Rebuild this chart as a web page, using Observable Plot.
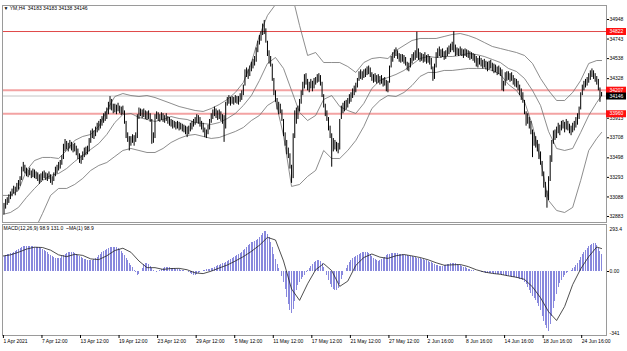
<!DOCTYPE html>
<html><head><meta charset="utf-8">
<script src="https://cdn.jsdelivr.net/npm/d3@7"></script>
<script src="https://cdn.jsdelivr.net/npm/@observablehq/plot@0.6"></script>
<style>
body{margin:0;background:#fff;}
#chart{position:relative;width:627px;height:351px;overflow:hidden;background:#fff;}
#chart svg{position:absolute;left:0;}
</style></head><body><div id="chart"></div>
<script>
// ---------- DATA (YM, H4 bars: index 0 = 1 Apr 2021) ----------
const lows = [
32860,32900,32960,33000,33020,33060,33090,33120,33100,33140,
33160,33200,33260,33350,33330,33300,33290,33310,33280,33290,
33280,33270,33250,33220,33240,33260,33280,33260,33250,33270,
33230,33210,33250,33300,33330,33360,33380,33420,33480,33560,
33580,33560,33590,33570,33550,33560,33520,33480,33440,33430,
33470,33500,33520,33530,33560,33650,33700,33690,33720,33760,
33780,33800,33830,33860,33880,33900,33950,34000,33990,33960,
33970,33950,33980,33960,33940,33950,33850,33700,33660,33570,
33620,33650,33620,33660,33700,33900,33930,33910,33920,33900,
33890,33900,33870,33640,33650,33700,33900,33880,33870,33890,
33870,33860,33880,33850,33830,33820,33800,33810,33790,33800,
33780,33790,33770,33760,33740,33710,33740,33770,33790,33820,
33840,33860,33850,33820,33790,33760,33710,33700,33740,33790,
33860,33900,33930,33910,33890,33900,33880,33850,33660,33800,
34040,34060,34040,34060,34050,34070,34060,34050,34080,34100,
34150,34250,34340,34320,34350,34400,34430,34460,34500,34600,
34680,34720,34780,34790,34700,34560,34480,34450,34300,34150,
34080,34000,33950,33960,33880,33720,33620,33530,33490,33380,
33230,33280,33700,33850,33900,33980,34060,34150,34220,34260,
34200,34180,34220,34190,34220,34260,34280,34290,34250,34130,
34020,33930,33880,33780,33700,33400,33560,33580,33560,33540,
33580,33900,33960,33980,34000,34020,34060,34080,34120,34150,
34180,34230,34300,34320,34310,34330,34340,34360,34370,34340,
34300,34280,34290,34270,34280,34260,34270,34240,34250,34190,
34180,34280,34440,34500,34540,34560,34530,34500,34490,34500,
34480,34460,34410,34400,34440,34480,34510,34520,34540,34520,
34500,34510,34490,34500,34480,34490,34470,34420,34300,34320,
34440,34540,34560,34540,34550,34520,34530,34560,34580,34600,
34620,34600,34560,34570,34560,34570,34560,34540,34560,34550,
34540,34520,34530,34510,34490,34450,34440,34470,34450,34430,
34440,34420,34400,34420,34430,34400,34380,34390,34360,34370,
34350,34200,34190,34250,34300,34310,34290,34300,34260,34240,
34230,34200,34150,34100,34070,33950,33830,33850,33800,33740,
33500,33620,33600,33560,33480,33420,33300,33180,33080,32970,
33050,33250,33450,33640,33680,33700,33750,33730,33780,33800,
33760,33790,33780,33750,33730,33760,33780,33810,33840,33900,
34000,34150,34200,34230,34250,34280,34310,34340,34320,34290,
34260,34200,34080,34138];
const highs = [
33000,33020,33060,33080,33110,33140,33170,33200,33190,33230,
33260,33300,33400,33450,33420,33390,33370,33390,33360,33380,
33370,33350,33340,33320,33330,33350,33360,33340,33330,33350,
33320,33300,33340,33400,33420,33450,33470,33520,33640,33690,
33670,33650,33680,33660,33640,33650,33620,33590,33540,33520,
33560,33600,33610,33620,33700,33780,33800,33780,33820,33860,
33880,33900,33930,33960,33980,34020,34080,34140,34110,34060,
34060,34050,34070,34040,34030,34040,33990,33880,33760,33720,
33720,33740,33730,33760,33950,34020,34010,34000,34010,33990,
33980,33990,33960,33900,33760,33950,33980,33970,33950,33970,
33960,33940,33960,33930,33920,33900,33890,33880,33870,33880,
33870,33860,33850,33840,33830,33820,33830,33860,33880,33900,
33920,33950,33940,33920,33880,33860,33810,33790,33840,33900,
33960,34000,34030,34010,33990,34000,33980,33950,33940,34080,
34130,34150,34130,34140,34130,34150,34140,34140,34170,34200,
34260,34420,34440,34420,34460,34500,34530,34560,34650,34720,
34780,34820,34900,34938,34850,34720,34620,34560,34480,34330,
34200,34120,34080,34060,34000,33900,33760,33680,33600,33540,
33420,33750,33990,34020,34040,34110,34200,34290,34370,34380,
34320,34290,34320,34300,34330,34340,34370,34380,34360,34290,
34160,34060,33990,33920,33830,33750,33700,33680,33660,33650,
33900,34040,34070,34090,34100,34120,34160,34180,34220,34250,
34280,34330,34400,34420,34400,34420,34430,34450,34460,34440,
34390,34370,34380,34360,34370,34350,34360,34330,34340,34310,
34300,34460,34560,34600,34630,34650,34620,34590,34580,34580,
34570,34550,34500,34490,34540,34580,34600,34620,34815,34640,
34600,34590,34580,34600,34570,34580,34560,34540,34450,34480,
34600,34640,34660,34630,34640,34610,34620,34650,34670,34690,
34710,34820,34680,34650,34640,34660,34640,34630,34640,34630,
34620,34610,34600,34590,34580,34560,34540,34560,34540,34520,
34530,34510,34500,34510,34520,34490,34480,34470,34450,34460,
34440,34420,34300,34390,34400,34400,34380,34390,34360,34330,
34320,34300,34260,34220,34180,34100,33980,33960,33920,33880,
33790,33760,33720,33680,33640,33560,33460,33350,33240,33150,
33300,33520,33680,33780,33790,33820,33860,33840,33880,33890,
33870,33900,33880,33850,33830,33860,33880,33920,33960,34030,
34180,34260,34300,34320,34340,34380,34410,34430,34410,34380,
34350,34320,34230,34183];

// Bollinger Bands (20,2) read every 5 bars
const sampleBars = [0,5,10,15,20,25,30,35,40,45,50,55,60,65,70,75,80,85,90,95,100,105,110,115,120,125,130,135,140,145,150,155,160,165,170,175,180,185,190,195,200,205,210,215,220,225,230,235,240,245,250,255,260,265,270,275,280,285,290,295,300,305,310,315,320,325,330,335,340,345,350,355,360,365,370,373];
const bbUpper = [33104,33104,33156,33366,33470,33502,33502,33491,33575,33680,33722,33743,33827,33994,34141,34172,34151,34141,34151,34130,34099,34068,34036,34015,33994,33984,34015,34057,34110,34183,34288,34497,34780,34990,35105,35199,35231,34885,34571,34602,34497,34497,34497,34455,34393,34497,34539,34550,34539,34623,34676,34728,34749,34749,34749,34770,34791,34801,34780,34749,34707,34665,34644,34623,34602,34571,34487,34330,34204,34099,34099,34183,34309,34487,34518,34518];
const bbMiddle = [32904,32925,32978,33083,33177,33261,33313,33334,33386,33460,33523,33586,33648,33743,33868,33952,33963,33921,33900,33879,33900,33931,33910,33900,33868,33858,33848,33868,33910,33963,34047,34151,34309,34487,34550,34435,34204,33973,33889,33942,34110,34151,34036,33994,33963,34068,34225,34309,34340,34372,34414,34476,34539,34560,34550,34560,34560,34571,34592,34581,34560,34529,34497,34435,34403,34330,34204,34047,33774,33596,33575,33596,33764,33942,34078,34151];
const bbLower = [32705,32747,32779,32716,32737,32915,33104,33177,33177,33219,33282,33366,33418,33449,33512,33575,33596,33575,33554,33554,33596,33659,33701,33732,33743,33722,33701,33711,33743,33774,33816,33889,33942,34047,34099,33732,33198,33219,33303,33366,33575,33491,33491,33575,33680,33827,34015,34099,34151,34141,34183,34256,34351,34393,34393,34414,34414,34424,34435,34435,34435,34414,34372,34267,34204,34089,33837,33470,33051,32946,32925,32978,33261,33575,33701,33764];

// MACD(12,26,9): main (histogram) per bar, signal every 5 bars
const macdMain = [
85,88,92,95,98,101,105,110,116,122,
128,134,139,143,145,145,144,143,142,141,
140,139,137,135,131,126,120,113,106,99,
92,85,79,74,72,73,77,83,90,97,
102,106,108,108,106,102,96,90,84,78,
73,69,66,64,63,63,63,66,72,80,
89,98,106,114,121,127,132,136,138,139,
138,135,130,123,114,103,90,76,62,47,
34,22,8,-8,-20,-15,0,20,38,46,
44,38,30,20,8,0,-5,-2,6,14,
18,21,23,23,22,20,18,16,14,12,
10,8,6,4,2,0,-3,-10,-18,-23,
-22,-18,-12,-6,-1,3,6,9,11,13,
16,20,24,28,32,36,40,43,46,50,
56,62,68,74,80,86,92,97,103,110,
118,128,138,148,156,163,168,172,177,185,
196,208,220,228,226,214,195,168,135,100,
66,40,18,0,-30,-65,-105,-150,-190,-220,
-240,-215,-170,-109,-82,-62,-45,-32,-20,-8,
5,18,30,42,51,58,62,63,58,45,
24,0,-25,-50,-72,-92,-105,-110,-109,-95,
-72,-48,-24,0,18,35,50,62,72,80,
87,93,98,102,106,108,110,110,105,95,
84,74,66,62,60,62,67,74,82,90,
96,100,103,104,104,103,101,99,97,95,
93,91,89,87,85,83,81,79,77,75,
72,70,68,65,62,58,54,50,45,40,
36,33,31,30,31,33,36,39,42,44,
46,46,44,41,37,33,29,25,21,17,
13,10,7,4,2,1,0,-2,-4,-6,
-8,-10,-11,-12,-13,-14,-15,-16,-17,-18,
-19,-20,-22,-24,-26,-28,-30,-32,-34,-36,
-38,-40,-43,-45,-52,-62,-75,-90,-108,-125,
-140,-155,-166,-180,-200,-225,-255,-285,-310,-326,
-341,-300,-255,-210,-170,-130,-91,-70,-52,-36,
-24,-14,-6,0,8,16,25,35,48,62,
78,95,110,122,133,142,150,156,160,160,
150,132,115,98.9];
const macdSignal = [88,95,110,128,139,137,122,95,85,98,92,72,68,90,120,133,110,60,22,22,12,17,18,10,-8,-12,2,20,37,60,85,115,150,195,180,60,-100,-165,-70,10,45,5,-85,-55,35,80,100,82,75,90,97,89,80,67,50,36,38,40,28,10,-3,-11,-16,-25,-33,-45,-88,-150,-230,-280,-200,-75,15,85,140,131];

// price levels and axis ticks
const priceTicks = [34948,34743,34538,34328,33913,33708,33498,33293,33088,32883];
const resistance = [34822];
const zoneLevels = [34207,33960];
const lastPrice = 34146;
const tagPrices = [34822,34207,33960,34146];
const timeTickBars = [0,24,48,72,96,120,144,168,192,216,240,264,288,312,336,360];
const timeTickLabels = ["1 Apr 2021","7 Apr 12:00","13 Apr 12:00","19 Apr 12:00","23 Apr 12:00","29 Apr 12:00","5 May 12:00","11 May 12:00","17 May 12:00","21 May 12:00","27 May 12:00","2 Jun 16:00","8 Jun 16:00","14 Jun 16:00","18 Jun 16:00","24 Jun 16:00"];
const headerText = ["\u25BC YM,H4  34183 34183 34138 34146"];
const macdText = ["MACD(12,26,9) 98.9 131.0  ~MA(1) 98.9"];
const macdMax = ["293.4"], macdMin = ["-341"];

// ---------- BUILD ----------
const bars = highs.map((h, i) => ({i, hi: h, lo: lows[i]}));
const bb = sampleBars.map((b, k) => ({i: b, up: bbUpper[k], mid: bbMiddle[k], lo: bbLower[k]}));
const hist = macdMain.map((v, i) => ({i, v}));
const sig = sampleBars.map((b, k) => ({i: b, v: macdSignal[k]}));
const labelOf = new Map(timeTickBars.map((b, k) => [b, timeTickLabels[k]]));

const FONT = "'Liberation Sans', Arial, sans-serif";
const xDomain = [0.062, 376.06];
const frameColor = "#9a9a9a";

const main = Plot.plot({
  width: 627, height: 224,
  marginTop: 5, marginBottom: 2, marginLeft: 2, marginRight: 21,
  style: {fontFamily: FONT, fontSize: "5px", background: "transparent", overflow: "visible", color: "#000"},
  x: {domain: xDomain, axis: null, label: null},
  y: {domain: [32820.1, 35094.75], axis: null, label: null},
  marks: [
    Plot.axisY({anchor: "right", label: null, ticks: priceTicks, tickFormat: "d", tickSize: 2, tickPadding: 1, fontSize: 5}),
    Plot.ruleY([lastPrice], {stroke: "#c4c4c4", strokeWidth: 1}),
    Plot.ruleY(zoneLevels, {stroke: "#f3a3a3", strokeWidth: 2}),
    Plot.ruleY(resistance, {stroke: "#e04848", strokeWidth: 1}),
    Plot.line(bb, {x: "i", y: "up", stroke: "#707070", strokeWidth: 0.8, clip: true}),
    Plot.line(bb, {x: "i", y: "mid", stroke: "#707070", strokeWidth: 0.8, clip: true}),
    Plot.line(bb, {x: "i", y: "lo", stroke: "#707070", strokeWidth: 0.8, clip: true}),
    Plot.ruleX(bars, {x: "i", y1: "lo", y2: "hi", stroke: "#000", strokeWidth: 1, clip: true}),
    Plot.frame({stroke: frameColor}),
    Plot.ruleY(tagPrices, {stroke: d => d === lastPrice ? "#000" : "#ff1010", strokeWidth: 7, insetLeft: 604, insetRight: -20}),
    Plot.text(tagPrices, {y: d => d, text: d => String(d), frameAnchor: "right", textAnchor: "start", dx: 3, fill: "#fff", fontSize: 5}),
    Plot.text(headerText, {text: d => d, frameAnchor: "top-left", textAnchor: "start", lineAnchor: "top", dx: 1, dy: 1, fontSize: 5})
  ]
});
main.style.top = "0px";

const macd = Plot.plot({
  width: 627, height: 128,
  marginTop: 1, marginBottom: 16, marginLeft: 2, marginRight: 21,
  style: {fontFamily: FONT, fontSize: "5px", background: "transparent", overflow: "visible", color: "#000"},
  x: {domain: xDomain, axis: null, label: null},
  y: {domain: [-365.7, 268.6], axis: null, label: null},
  marks: [
    Plot.ruleX(hist, {x: "i", y1: 0, y2: "v", stroke: "#6a6ad4", strokeOpacity: 0.8, strokeWidth: 1, shapeRendering: "crispEdges", clip: true}),
    Plot.line(sig, {x: "i", y: "v", stroke: "#222", strokeWidth: 0.8, clip: true}),
    Plot.frame({stroke: frameColor}),
    Plot.axisX({ticks: timeTickBars, label: null, tickFormat: d => labelOf.get(d), anchor: "bottom", tickSize: 3, tickPadding: 1, textAnchor: "start", dx: 1, fontSize: 5}),
    Plot.axisY({anchor: "right", label: null, ticks: [0], tickFormat: () => "0.00", tickSize: 2, tickPadding: 1, fontSize: 5}),
    Plot.text(macdMax, {text: d => d, frameAnchor: "top-right", textAnchor: "start", lineAnchor: "top", dx: 3, dy: 3, fontSize: 5}),
    Plot.text(macdMin, {text: d => d, frameAnchor: "bottom-right", textAnchor: "start", lineAnchor: "bottom", dx: 3, dy: -1, fontSize: 5}),
    Plot.text(macdText, {text: d => d, frameAnchor: "top-left", textAnchor: "start", lineAnchor: "top", dx: 1, dy: 2, fontSize: 5})
  ]
});
macd.style.top = "223px";

const root = document.getElementById("chart");
root.appendChild(main);
root.appendChild(macd);
</script>
</body></html>
